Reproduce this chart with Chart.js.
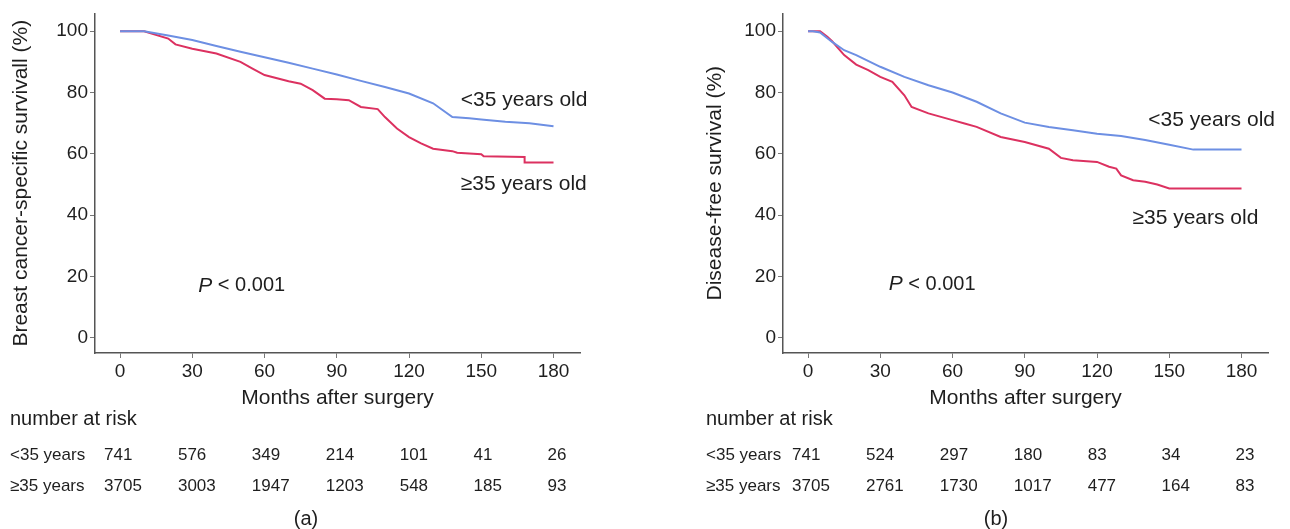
<!DOCTYPE html>
<html>
<head>
<meta charset="utf-8">
<script src="https://cdn.jsdelivr.net/npm/chart.js@4.4.0/dist/chart.umd.min.js"></script>
<style>
  body { margin: 0; background: #fff; }
  #wrap { position: relative; width: 1290px; height: 529px; }
  canvas { position: absolute; top: 0; }
  #bcss { left: 0; }
  #dfs { left: 645px; }
</style>
</head>
<body>
<div id="wrap">
  <canvas id="bcss" width="645" height="529"></canvas>
  <canvas id="dfs" width="645" height="529"></canvas>
</div>
<script>
// tick labels
const xTicks = [0, 30, 60, 90, 120, 150, 180];
const yTicks = [0, 20, 40, 60, 80, 100];

// (a) breast cancer-specific survival
const bcssYoungT = [0, 10, 20, 30, 40, 50, 60, 70, 80, 90, 100, 110, 120, 130, 138, 145, 150, 160, 170, 180];
const bcssYoungS = [100, 100, 98.6, 97.1, 95.2, 93.3, 91.5, 89.7, 87.8, 85.9, 83.8, 81.8, 79.7, 76.5, 72.0, 71.6, 71.2, 70.5, 70.0, 69.0];
const bcssOldT = [0, 10, 20, 23, 30, 40, 50, 55, 60, 70, 75, 80, 85, 90, 95, 100, 107, 110, 115, 120, 125, 130, 138, 140, 150, 151, 168, 168, 180];
const bcssOldS = [100, 100, 97.6, 95.7, 94.3, 92.7, 90, 87.8, 85.7, 83.7, 82.9, 80.8, 78, 77.8, 77.5, 75.3, 74.6, 72, 68.3, 65.5, 63.4, 61.7, 60.9, 60.4, 59.9, 59.2, 59.0, 57.2, 57.2];

// (b) disease-free survival
const dfsYoungT = [0, 2, 5, 10, 15, 20, 30, 40, 50, 60, 70, 80, 90, 100, 110, 120, 130, 140, 150, 160, 180];
const dfsYoungS = [100, 100, 99.6, 96.5, 93.8, 92.2, 88.4, 85.1, 82.4, 80, 77, 73.2, 70.2, 68.8, 67.7, 66.6, 65.8, 64.5, 63, 61.4, 61.4];
const dfsOldT = [0, 5, 8, 10, 15, 20, 25, 30, 35, 40, 43, 50, 60, 65, 70, 80, 90, 100, 105, 110, 120, 125, 128, 130, 135, 140, 145, 150, 180];
const dfsOldS = [100, 100, 98.2, 96.7, 92.2, 89.1, 87.3, 85.1, 83.5, 79.1, 75.3, 73.2, 71, 69.9, 68.8, 65.5, 63.9, 61.7, 58.7, 57.9, 57.4, 55.8, 55.2, 53, 51.4, 50.9, 50, 48.7, 48.7];

// number at risk
const riskMonths = [0, 30, 60, 90, 120, 150, 180];
const bcssRiskYoung = [741, 576, 349, 214, 101, 41, 26];
const bcssRiskOld = [3705, 3003, 1947, 1203, 548, 185, 93];
const dfsRiskYoung = [741, 524, 297, 180, 83, 34, 23];
const dfsRiskOld = [3705, 2761, 1730, 1017, 477, 164, 83];

const FONT = "'Liberation Sans', Arial, sans-serif";
const BLUE = '#6d8fe3';
const RED = '#dc3160';
const TXT = '#1e1e1e';

const toPoints = (t, s) => t.map((v, i) => ({ x: v, y: s[i] }));

// annotations, risk table and panel letter
const extras = {
    id: 'extras',
    afterDraw(chart, args, opts) {
        const ctx = chart.ctx;
        const xs = chart.scales.x, ys = chart.scales.y;
        ctx.save();
        ctx.fillStyle = TXT;
        ctx.textBaseline = 'middle';
        ctx.textAlign = 'left';
        ctx.font = '21px ' + FONT;
        opts.labels.forEach(l => {
            ctx.fillText(l.text, xs.getPixelForValue(l.x), ys.getPixelForValue(l.y));
        });
        // P value
        const px = xs.getPixelForValue(opts.p.x), py = ys.getPixelForValue(opts.p.y);
        ctx.font = 'italic 21px ' + FONT;
        ctx.fillText('P', px, py);
        const w = ctx.measureText('P').width;
        ctx.font = '20px ' + FONT;
        ctx.fillText(' < 0.001', px + w, py);

        // number at risk
        ctx.font = '20px ' + FONT;
        ctx.fillText('number at risk', opts.tableLeft, 419);
        ctx.font = '17px ' + FONT;
        ctx.fillText('<35 years', opts.tableLeft, 455);
        ctx.fillText('\u226535 years', opts.tableLeft, 486);
        riskMonths.forEach((m, i) => {
            const cx = xs.getPixelForValue(m) - 16 + m / 180 * 10;
            ctx.fillText(String(opts.young[i]), cx, 455);
            ctx.fillText(String(opts.old[i]), cx, 486);
        });

        ctx.textAlign = 'center';
        ctx.font = '20px ' + FONT;
        ctx.fillText(opts.letter, opts.letterX, 519);
        ctx.restore();
    }
};

function makeChart(id, cfg) {
    return new Chart(document.getElementById(id), {
        type: 'line',
        data: {
            datasets: [
                { data: toPoints(cfg.youngT, cfg.youngS), borderColor: BLUE, borderWidth: 2, pointRadius: 0, tension: 0 },
                { data: toPoints(cfg.oldT, cfg.oldS), borderColor: RED, borderWidth: 2, pointRadius: 0, tension: 0 }
            ]
        },
        options: {
            responsive: false,
            animation: false,
            devicePixelRatio: 1,
            layout: { padding: { left: cfg.padLeft, right: cfg.padRight, top: cfg.padTop, bottom: 116 } },
            plugins: {
                legend: { display: false },
                tooltip: { enabled: false },
                extras: cfg.extras
            },
            scales: {
                x: {
                    type: 'linear',
                    min: -10.4,
                    max: 191,
                    afterBuildTicks: s => { s.ticks = xTicks.map(v => ({ value: v })); },
                    afterFit: s => { s.height = 60; },
                    grid: { drawOnChartArea: false, drawTicks: true, tickLength: 5, color: '#777', lineWidth: 1 },
                    border: { display: true, color: '#555', width: 1.5 },
                    ticks: { color: TXT, padding: 2, maxRotation: 0, font: { family: FONT, size: 19 } },
                    title: { display: true, text: 'Months after surgery', color: TXT, padding: { top: 0, bottom: 2 }, font: { family: FONT, size: 21 } }
                },
                y: {
                    min: -4.9,
                    max: 105.8,
                    afterBuildTicks: s => { s.ticks = yTicks.map(v => ({ value: v })); },
                    afterFit: s => { s.width = cfg.yWidth; },
                    grid: { drawOnChartArea: false, drawTicks: true, tickLength: 5, color: '#777', lineWidth: 1 },
                    border: { display: true, color: '#555', width: 1.5 },
                    ticks: { color: TXT, padding: 2, font: { family: FONT, size: 19 } },
                    title: { display: true, text: cfg.yTitle, color: TXT, padding: { top: 9, bottom: 0 }, font: { family: FONT, size: 21 } }
                }
            }
        },
        plugins: [extras]
    });
}

makeChart('bcss', {
    youngT: bcssYoungT, youngS: bcssYoungS, oldT: bcssOldT, oldS: bcssOldS,
    padLeft: 0, padRight: 65, padTop: 11, yWidth: 95,
    yTitle: 'Breast cancer-specific survivall (%)',
    extras: {
        labels: [{ text: '<35 years old', x: 141.5, y: 77.5 }, { text: '\u226535 years old', x: 141.5, y: 50 }],
        p: { x: 32.5, y: 17 },
        young: bcssRiskYoung, old: bcssRiskOld,
        tableLeft: 10, letter: '(a)', letterX: 306
    }
});

makeChart('dfs', {
    youngT: dfsYoungT, youngS: dfsYoungS, oldT: dfsOldT, oldS: dfsOldS,
    padLeft: 49, padRight: 22, padTop: 10, yWidth: 89,
    yTitle: 'Disease-free survival (%)',
    extras: {
        labels: [{ text: '<35 years old', x: 141.3, y: 71.1 }, { text: '\u226535 years old', x: 134.7, y: 39 }],
        p: { x: 33.5, y: 17.5 },
        young: dfsRiskYoung, old: dfsRiskOld,
        tableLeft: 61, letter: '(b)', letterX: 351
    }
});
</script>
</body>
</html>
